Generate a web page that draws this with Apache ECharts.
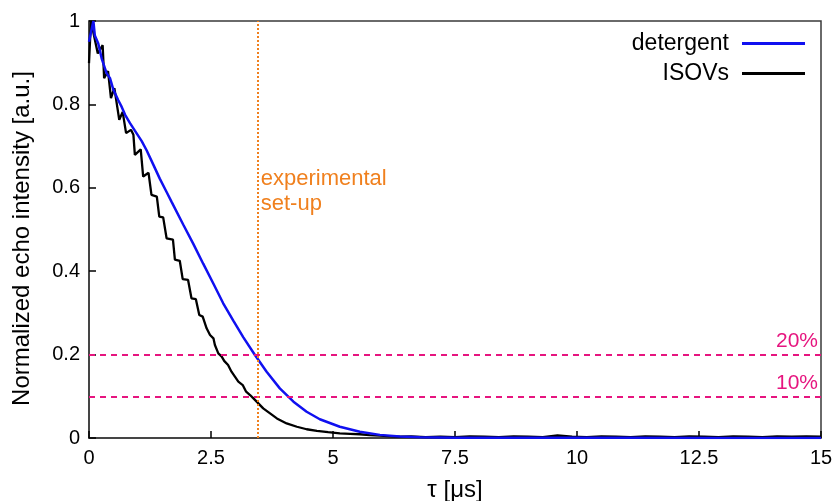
<!DOCTYPE html>
<html>
<head>
<meta charset="utf-8">
<script src="https://cdn.jsdelivr.net/npm/echarts@6/dist/echarts.min.js"></script>
<style>html,body{margin:0;padding:0;background:#fff}#c{width:834px;height:501px}</style>
</head>
<body>
<div id="c"></div>
<script>
// ---- data ----
const xTicks = [0, 2.5, 5, 7.5, 10, 12.5, 15];
const yTicks = [0, 0.2, 0.4, 0.6, 0.8, 1];

const detT = [0, 0.09, 0.12, 0.19, 0.26, 0.36, 0.43, 0.50, 0.60, 0.67, 0.74, 0.84, 0.94, 1.08, 1.18, 1.32, 1.45, 1.59, 1.69, 1.93, 2.14, 2.34, 2.55, 2.75, 2.96, 3.16, 3.40, 3.64, 3.91, 4.19, 4.46, 4.73, 5.14, 5.55, 5.96, 6.37, 6.78, 7.5, 9, 11, 13, 15];
const detI = [0.95, 1.0, 0.965, 0.946, 0.91, 0.875, 0.863, 0.835, 0.81, 0.794, 0.775, 0.755, 0.737, 0.712, 0.690, 0.655, 0.622, 0.590, 0.567, 0.512, 0.465, 0.418, 0.370, 0.323, 0.281, 0.242, 0.199, 0.159, 0.119, 0.087, 0.063, 0.045, 0.027, 0.015, 0.0075, 0.0035, 0.0017, 0.0008, 0.0004, 0.0003, 0.0002, 0.0002];

const isoT = [0, 0.04, 0.18, 0.28, 0.31, 0.39, 0.45, 0.52, 0.62, 0.69, 0.76, 0.86, 0.91, 0.94, 1.06, 1.11, 1.22, 1.28, 1.39, 1.44, 1.52, 1.59, 1.72, 1.76, 1.86, 1.92, 2.03, 2.10, 2.19, 2.26, 2.33, 2.41, 2.48, 2.55, 2.58, 2.65, 2.72, 2.77, 2.85, 2.92, 2.99, 3.06, 3.15, 3.22, 3.30, 3.37, 3.47, 3.57, 3.71, 3.85, 4.05, 4.26, 4.46, 4.67, 4.9, 5.14, 5.35, 5.55, 5.75, 5.96, 6.2, 6.37, 6.6, 6.9, 7.2, 7.5, 7.8, 8.1, 8.4, 8.7, 9.0, 9.3, 9.6, 9.9, 10.2, 10.5, 10.8, 11.1, 11.4, 11.7, 12.0, 12.3, 12.6, 12.9, 13.2, 13.5, 13.8, 14.1, 14.4, 14.7, 15];
const isoI = [0.899, 1.0, 0.922, 0.942, 0.863, 0.88, 0.815, 0.839, 0.763, 0.782, 0.731, 0.739, 0.727, 0.679, 0.692, 0.627, 0.636, 0.583, 0.579, 0.531, 0.529, 0.479, 0.476, 0.428, 0.425, 0.381, 0.379, 0.335, 0.333, 0.295, 0.291, 0.263, 0.247, 0.239, 0.223, 0.203, 0.195, 0.185, 0.175, 0.159, 0.147, 0.135, 0.127, 0.111, 0.103, 0.095, 0.083, 0.071, 0.059, 0.047, 0.035, 0.027, 0.021, 0.017, 0.014, 0.011, 0.010, 0.009, 0.007, 0.0055, 0.004, 0.003, 0.004, 0.002, 0.003, 0.002, 0.004, 0.003, 0.002, 0.004, 0.003, 0.002, 0.006, 0.003, 0.002, 0.004, 0.003, 0.002, 0.004, 0.003, 0.002, 0.004, 0.003, 0.002, 0.004, 0.003, 0.002, 0.004, 0.003, 0.004, 0.003];

const setupT = 3.45;           // experimental set-up marker
const thresholds = [0.2, 0.1];
const thresholdLabels = ['20%', '10%'];
const noteText = 'experimental\nset-up';
const noteAnchor = [3.52, 0.652];

// ---- styles ----
const FONT = "'Liberation Sans', Arial, sans-serif";
const MAGENTA = '#e6157f';
const ORANGE = '#f0801e';
const BLUE = '#1010f0';

const zip = (a, b) => a.map((v, i) => [v, b[i]]);

const chart = echarts.init(document.getElementById('c'), null, {renderer: 'canvas'});
const option = {
  animation: false,
  backgroundColor: '#fff',
  grid: {left: 89, right: 13, top: 21, bottom: 63, containLabel: false, outerBoundsMode: 'none',
    show: true, borderColor: '#3a3a3a', borderWidth: 1.5, backgroundColor: 'transparent'},
  legend: {
    data: ['detergent', 'ISOVs'],
    orient: 'vertical',
    right: 24, top: 27,
    align: 'right',
    icon: 'rect',
    itemWidth: 63, itemHeight: 3,
    itemGap: 7,
    textStyle: {fontFamily: FONT, fontSize: 23, color: '#000', padding: [0, 8, 0, 0]}
  },
  xAxis: {
    type: 'value', min: 0, max: 15, interval: 2.5,
    name: 'τ [μs]', nameLocation: 'middle', nameGap: 40,
    nameTextStyle: {fontFamily: FONT, fontSize: 24, color: '#000'},
    axisLine: {show: true, lineStyle: {color: '#3a3a3a', width: 1.5}},
    axisTick: {show: true, inside: true, length: 7, lineStyle: {color: '#000', width: 1.5}},
    axisLabel: {fontFamily: FONT, fontSize: 20, color: '#000', margin: 10,
      formatter: v => xTicks.includes(v) ? String(v) : ''},
    splitLine: {show: false}
  },
  yAxis: {
    type: 'value', min: 0, max: 1, interval: 0.2,
    name: 'Normalized echo intensity [a.u.]', nameLocation: 'middle', nameGap: 55,
    nameTextStyle: {fontFamily: FONT, fontSize: 24, color: '#000', padding: [0, 18, 0, 0]},
    axisLine: {show: true, lineStyle: {color: '#3a3a3a', width: 1.5}},
    axisTick: {show: true, inside: true, length: 7, lineStyle: {color: '#000', width: 1.5}},
    axisLabel: {fontFamily: FONT, fontSize: 20, color: '#000', margin: 9,
      formatter: v => {
        const t = yTicks.find(k => Math.abs(k - v) < 1e-9);
        if (t === undefined) return '';
        return (t === 0 || t === 1) ? String(t) : t.toFixed(1);
      }},
    splitLine: {show: false}
  },
  series: [
    {
      name: 'ISOVs', type: 'line', data: zip(isoT, isoI),
      showSymbol: false, symbol: 'none',
      lineStyle: {color: '#000', width: 2.3}, itemStyle: {color: '#000'},
      z: 3,
      markLine: {
        silent: true, symbol: 'none',
        data: thresholds.map((v, i) => ({
          yAxis: v,
          lineStyle: {color: MAGENTA, type: [6, 5], width: 2},
          label: {show: true, position: 'insideEndTop', formatter: thresholdLabels[i],
            color: MAGENTA, fontFamily: FONT, fontSize: 21, distance: [3, 3]}
        })).concat([{
          xAxis: setupT,
          lineStyle: {color: ORANGE, type: [2, 2], width: 2},
          label: {show: false}
        }])
      }
    },
    {
      name: 'detergent', type: 'line', data: zip(detT, detI),
      showSymbol: false, symbol: 'none',
      lineStyle: {color: BLUE, width: 2.5}, itemStyle: {color: BLUE},
      z: 4
    }
  ]
};
chart.setOption(option);

const p = chart.convertToPixel({xAxisIndex: 0, yAxisIndex: 0}, noteAnchor);
chart.setOption({
  graphic: [{
    type: 'text', left: p[0], top: p[1], silent: true,
    style: {text: noteText, fill: ORANGE, font: '22px ' + FONT, lineHeight: 25}
  }]
});
</script>
</body>
</html>
